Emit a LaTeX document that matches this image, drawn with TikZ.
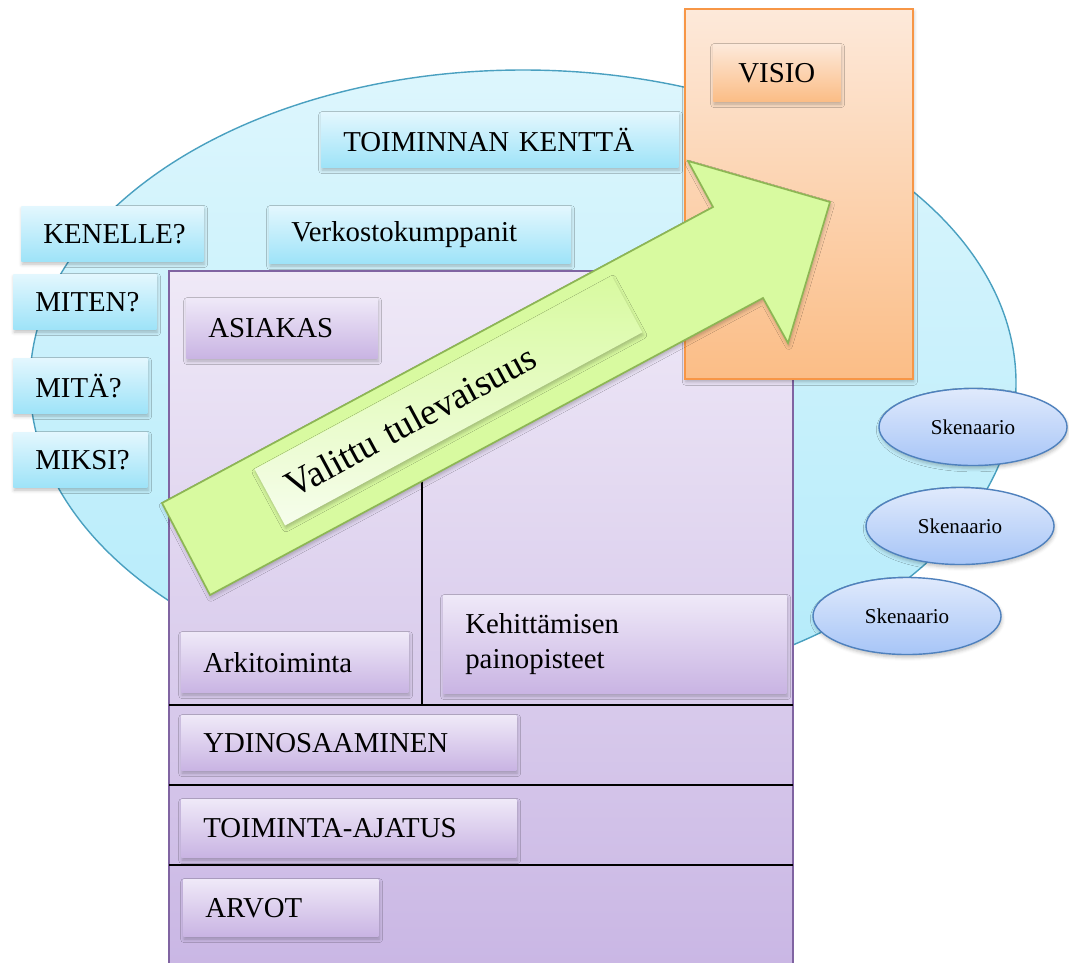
\documentclass[tikz,border=0pt]{standalone}
\usepackage{fontspec}
\setmainfont{Liberation Serif}
\usepackage{tikz}
\usetikzlibrary{shapes.geometric}
\usetikzlibrary{shadows.blur}
\usepackage{xcolor}
\definecolor{fieldtop}{HTML}{DDF6FD}
\definecolor{fieldbot}{HTML}{B3EBFA}
\definecolor{fieldline}{HTML}{4AA0C0}
\definecolor{cyantop}{HTML}{E3F7FE}
\definecolor{cyanbot}{HTML}{9EE3F8}
\definecolor{lilactop}{HTML}{EFE9F8}
\definecolor{lilacbot}{HTML}{C9B4E3}
\definecolor{frametop}{HTML}{EFE9F7}
\definecolor{framebot}{HTML}{C9B6E4}
\definecolor{frameline}{HTML}{8064A2}
\definecolor{peachtop}{HTML}{FDE9DA}
\definecolor{peachbot}{HTML}{FBBD86}
\definecolor{peachline}{HTML}{F79646}
\definecolor{limefill}{HTML}{D8FAA0}
\definecolor{limeline}{HTML}{8DB654}
\definecolor{limepale}{HTML}{F6FDEC}
\definecolor{skentop}{HTML}{E0EAFC}
\definecolor{skenbot}{HTML}{A7C5F7}
\definecolor{skenline}{HTML}{4F81BD}

\begin{document}
\begin{tikzpicture}[x=0.025cm, y=-0.025cm,
  soft/.style = {blur shadow={shadow xshift=0.6pt, shadow yshift=-2pt, shadow blur radius=2.5pt, shadow opacity=25}},
  box/.style = {anchor=north west, align=left, inner xsep=0.55cm, inner ysep=0pt, minimum height=1.375cm, font=\fontsize{20.5}{25}\selectfont, soft},
  cyanbox/.style = {box, top color=cyantop, bottom color=cyanbot},
  lilacbox/.style = {box, top color=lilactop, bottom color=lilacbot},
  peachbox/.style = {box, top color=peachtop, bottom color=peachbot},
  skenbox/.style = {ellipse, draw=skenline, line width=1pt, top color=skentop, bottom color=skenbot, minimum width=4.7cm, minimum height=1.925cm, inner sep=0pt, font=\fontsize{15}{18}\selectfont, soft}]
  \useasboundingbox (0,0) rectangle (1069,962);
  \clip (0,0) rectangle (1069,962);
  \draw[fieldline, line width=1pt, top color=fieldtop, bottom color=fieldbot] (523,383) ellipse [x radius=493, y radius=313];

  \node[cyanbox, text width=7.825cm] (kentta) at (321,112) {TOIMINNAN KENTTÄ};
  \node[cyanbox, text width=6.425cm, minimum height=1.425cm] (verkosto) at (269,206) {Verkostokumppanit};
  \node[cyanbox, text width=3.45cm] (kenelle) at (21,206) {KENELLE?};
  \node[cyanbox, text width=2.475cm] (miten) at (13,274) {MITEN?};
  \node[cyanbox, text width=2.25cm] (mita) at (13,358) {MITÄ?};
  \node[cyanbox, text width=2.25cm] (miksi) at (13,432) {MIKSI?};

  \draw[frameline, line width=1.2pt, top color=frametop, bottom color=framebot] (169,271) rectangle (793,975);
  \draw[line width=1pt] (169,705) -- (793,705);
  \draw[line width=1pt] (169,785) -- (793,785);
  \draw[line width=1pt] (169,865) -- (793,865);
  \draw[line width=1pt] (422,440) -- (422,705);

  \node[lilacbox, text width=3.675cm, minimum height=1.5cm] (asiakas) at (186,298) {ASIAKAS};
  \node[lilacbox, text width=4.575cm, minimum height=1.5cm] (arki) at (181,632) {Arkitoiminta};
  \node[lilacbox, text width=7.475cm, minimum height=2.45cm] (kehitys) at (443,595) {Kehittämisen\\painopisteet};
  \node[lilacbox, text width=7.275cm] (ydin) at (181,715) {YDINOSAAMINEN};
  \node[lilacbox, text width=7.275cm, minimum height=1.45cm] (ajatus) at (181,799) {TOIMINTA-AJATUS};
  \node[lilacbox, text width=3.775cm, minimum height=1.425cm] (arvot) at (183,879) {ARVOT};

  \draw[peachline, line width=1.2pt, top color=peachtop, bottom color=peachbot, soft] (685,9) rectangle (913,379);
  \node[peachbox, text width=2.075cm, align=center, minimum height=1.425cm] (visio) at (713,44) {VISIO};

  \draw[limeline, line width=1.2pt, fill=limefill, soft] (162,503) -- (713,207) -- (688,161) -- (830,202) -- (788,343) -- (763,298) -- (210,595) -- cycle;
  \node[rotate=28.4, top color=limefill, bottom color=limepale, minimum width=10.15cm, minimum height=1.6cm, text width=9.15cm, inner xsep=0.5cm, align=left, font=\fontsize{26.5}{30}\selectfont, soft] (valittu) at (448.5,400.75) {Valittu tulevaisuus};

  \node[skenbox] (sken1) at (973,427) {Skenaario};
  \node[skenbox] (sken2) at (960,526) {Skenaario};
  \node[skenbox] (sken3) at (907,616) {Skenaario};
\end{tikzpicture}
\end{document}
